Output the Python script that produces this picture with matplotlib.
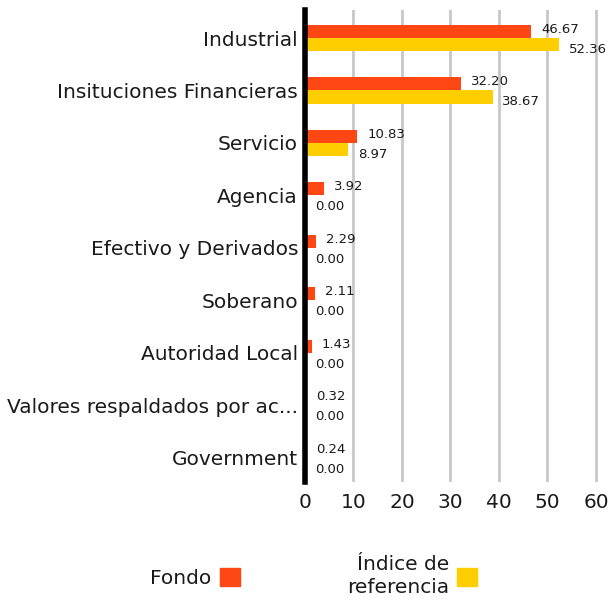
import matplotlib.pyplot as plt
import numpy as np
from matplotlib.patches import Patch

plt.rcParams['font.family'] = ['DejaVu Sans']

categories = ['Industrial', 'Insituciones Financieras', 'Servicio', 'Agencia',
              'Efectivo y Derivados', 'Soberano', 'Autoridad Local',
              'Valores respaldados por ac...', 'Government']
fondo = [46.67, 32.20, 10.83, 3.92, 2.29, 2.11, 1.43, 0.32, 0.24]
indice = [52.36, 38.67, 8.97, 0.00, 0.00, 0.00, 0.00, 0.00, 0.00]
ticks = [0, 10, 20, 30, 40, 50, 60]

orange = '#ff4713'
yellow = '#ffce00'
text_col = '#1a1a1a'

fig = plt.figure(figsize=(6.08, 6.0), dpi=100)
ax = fig.add_axes([0.5016, 0.197, 0.485, 0.786])

y = np.arange(len(categories))
h = 0.25
ax.barh(y - h / 2, fondo, height=h, color=orange, zorder=3)
ax.barh(y + h / 2, indice, height=h, color=yellow, zorder=3)

for i in range(len(categories)):
    ax.annotate(f'{fondo[i]:.2f}', (fondo[i], y[i] - h / 2), xytext=(7, 1.5),
                textcoords='offset points', va='center', ha='left',
                fontsize=9.5, color=text_col)
    ax.annotate(f'{indice[i]:.2f}', (indice[i], y[i] + h / 2), xytext=(7, -3.5),
                textcoords='offset points', va='center', ha='left',
                fontsize=9.5, color=text_col)

ax.set_xlim(0, 60.8)
ax.set_ylim(8.46, -0.53)
ax.set_xticks(ticks)
ax.set_yticks(y)
ax.set_yticklabels(categories, fontsize=14.5, color=text_col)
ax.tick_params(axis='x', length=0, pad=8, labelsize=14.5, labelcolor=text_col)
ax.tick_params(axis='y', length=0, pad=5)
ax.grid(axis='x', color='#c8c8c8', linewidth=2, zorder=0)
for s in ['top', 'right', 'bottom']:
    ax.spines[s].set_visible(False)
ax.spines['left'].set_linewidth(4)
ax.spines['left'].set_color('black')
ax.spines['left'].set_zorder(4)

handles = [Patch(color=orange, label='Fondo'),
           Patch(color=yellow, label='Índice de\nreferencia')]
leg = fig.legend(handles=handles, loc='center', bbox_to_anchor=(0.516, 0.04),
                 ncol=2, frameon=False, markerfirst=False, fontsize=14.5,
                 handlelength=1.0, handleheight=1.0, columnspacing=5.3,
                 handletextpad=0.4)
for t in leg.get_texts():
    t.set_multialignment('right')
    t.set_color(text_col)
    t.set_linespacing(1.3)

fig.savefig('out.png', dpi=100)
